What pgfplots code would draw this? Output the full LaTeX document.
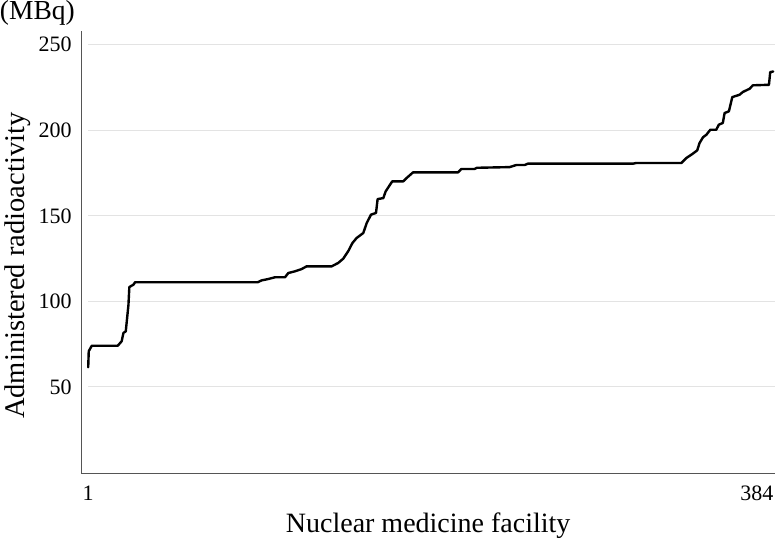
\documentclass[border=0pt]{standalone}
\usepackage{fontspec}
\setmainfont{Liberation Serif}
\usepackage{pgfplots}
\pgfplotsset{compat=1.18}
\usetikzlibrary{calc}
\definecolor{gridgray}{HTML}{E3E3E3}
\definecolor{spine}{HTML}{555555}

\begin{document}
\begin{tikzpicture}
\begin{axis}[
  scale only axis,
  width=693pt, height=443pt,
  xmin=-2.6, xmax=384.7,
  ymin=-0.8, ymax=258,
  axis x line*=bottom,
  axis y line*=left,
  axis line style={spine, line width=1pt, -},
  xtick={1,384},
  xticklabels={1,\llap{384}},
  ytick={50,100,150,200,250},
  major tick length=0pt,
  tick label style={font=\fontsize{22}{26}\selectfont},
  /pgf/number format/assume math mode=true,
  xticklabel style={inner sep=0pt, anchor=north, yshift=-12pt},
  yticklabel style={inner sep=0pt, anchor=east, xshift=-10pt},
  xlabel={Nuclear medicine facility},
  ylabel={Administered radioactivity},
  every axis x label/.style={at={(rel axis cs:0.5,-0.118)}, anchor=center,
    font=\fontsize{28}{33}\selectfont},
  every axis y label/.style={at={(rel axis cs:-0.093,0.47)}, rotate=90, anchor=center,
    font=\fontsize{28.5}{33}\selectfont},
  clip=false,
]
  % light horizontal grid, starting just right of the spine
  \foreach \g in {50,100,150,200,250}{
    \edef\tmp{\noexpand\draw[gridgray, line width=1pt] (axis cs:1,\g) -- (axis cs:384.7,\g);}
    \tmp
  }
  % sorted administered activity per facility
  \addplot[black, line width=2.4pt, line join=round, line cap=round] coordinates {
    (1,61.5) (1.3,70.9) (3,74.1) (17.5,74.1) (19.7,76.7) (20.7,81.6) (22,82.5)
    (23.5,98) (24,108.4) (26.3,109.8) (27.2,111.2) (95.7,111.2) (98,112.3)
    (101.7,113.1) (105.4,114.1) (111,114.1) (112.9,116.6) (116.6,117.6)
    (120.3,118.9) (123.1,120.5) (137.1,120.5) (140.8,122.5) (143.6,125)
    (146.5,129.6) (148.7,134.1) (151.1,137.1) (154.8,140) (156.7,145.8)
    (159.1,150.7) (161.9,151.7) (162.8,159.8) (166,160.4) (167.3,164.3)
    (168.8,166.7) (171,170.2) (177.2,170.2) (179,172.1) (182.6,175.4)
    (207.7,175.4) (209.6,177.4) (217,177.4) (218.3,178.1) (236.6,178.5)
    (240.3,179.7) (245,179.7) (246.8,180.5) (305.5,180.5) (307.4,180.9)
    (332.6,180.9) (335.4,183.8) (338.7,186.1) (341.5,188.3) (342.8,192.6)
    (344.7,195.9) (346.6,197.4) (348.8,200.3) (352.1,200.3) (353.6,203.3)
    (355.8,204.3) (356.8,210.1) (359.2,211.1) (361.1,219.4) (365.2,220.8)
    (367,222.4) (370.8,224.3) (372.6,226.3) (381.6,226.6) (382.3,234)
    (384,234.4)
  };
  % unit above the y axis
  \node[anchor=base west, inner sep=0pt, font=\fontsize{27.5}{32}\selectfont]
    at ($(rel axis cs:0,1)+(-82pt,12pt)$) {(MBq)};
\end{axis}
\end{tikzpicture}
\end{document}
